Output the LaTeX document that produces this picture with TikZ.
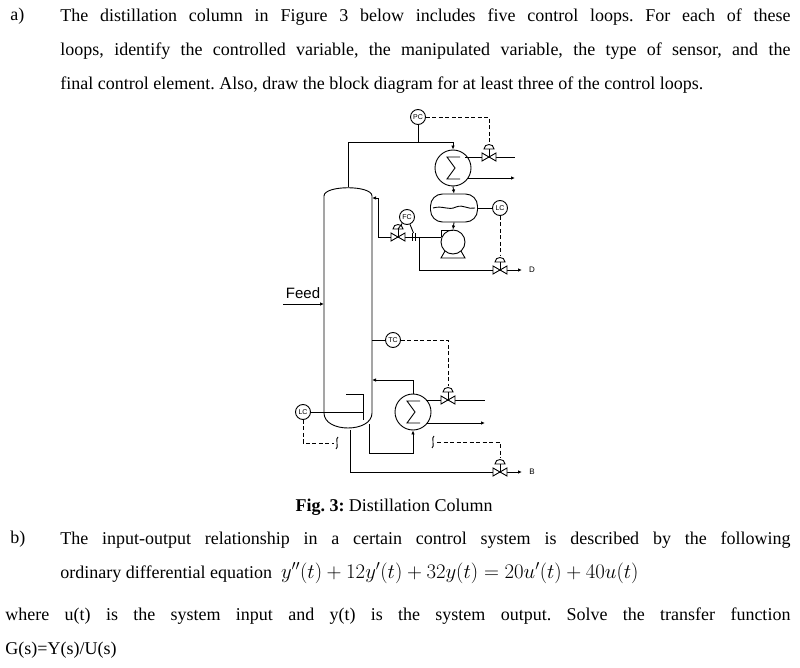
\documentclass[tikz,border=0pt]{standalone}
\usepackage{fontspec}
\setmainfont{Liberation Serif}
\newfontfamily\dsans{Liberation Sans}
\usetikzlibrary{arrows.meta}
\frenchspacing
\tikzset{
  txt/.style={anchor=north west, inner sep=0pt, align=justify, font=\fontsize{18}{34}\selectfont},
  inst/.style={draw, circle, minimum size=15pt, inner sep=0pt, font=\dsans\fontsize{7}{7}\selectfont, fill=white},
  sig/.style={dashed, dash pattern=on 4pt off 2.5pt},
  flow/.style={-{Latex[length=4pt,width=3.5pt]}},
  valve/.pic={
    \draw[fill=white] (-7,-4) -- (7,4) -- (7,-4) -- (-7,4) -- cycle;
    \draw (0,0) -- (0,-8);
    \draw[fill=white] (-5,-8) .. controls (-5,-14) and (5,-14) .. (5,-8) -- cycle;
  },
  squig/.pic={
    \draw (1,-6) .. controls (-2,-6) and (2,6) .. (-1,6);
  }
}
\begin{document}
\begin{tikzpicture}[x=1pt, y=-1pt, line width=0.9pt]
\useasboundingbox (0,0) rectangle (800,668);

% part a
\node[txt] (la) at (10,8) {a)};
\node[txt, text width=730pt] (qa) at (60,8) {The distillation column in Figure 3 below includes five control loops. For each of these\linebreak loops, identify the controlled variable, the manipulated variable, the type of sensor, and the\linebreak final control element. Also, draw the block diagram for at least three of the control loops.};

% column
\draw (324,413) -- (324,196) .. controls (324,185) and (372,185) .. (372,196) -- (372,413)
  .. controls (372,433) and (324,433) .. (324,413);

% overhead and condenser
\node[draw, circle, minimum size=36pt] (cond) at (453,168) {};
\draw (cond.center) ++(7,-11) -- ++(-13,0) -- ++(8,11) -- ++(-8,11) -- ++(13,0);
\coordinate (top) at (348,187);
\draw[flow] (top) -- (348,142) -- (453,142) -- (cond.north);
\node[inst] (pc) at (418,117) {PC};
\draw (pc) -- (418,142);
\draw (465,157) -- (515,157);
\pic at (489,157) {valve};
\draw[sig] (pc) -- (489,117) -- (489,143);
\draw[flow] (468,178) -- (515,178);

% accumulator
\node[draw, rounded corners=12pt, minimum width=47pt, minimum height=28pt] (drum) at (454,208) {};
\draw (433,208) .. controls (443,205) and (448,211) .. (456,207) .. controls (464,204) and (468,210) .. (475,208);
\draw[flow] (cond.south) -- (drum.north);
\node[inst] (lcd) at (500,208) {LC};
\draw (drum.east) -- (lcd);

% pump
\node[draw, circle, minimum size=24pt] (pump) at (453,242) {};
\draw (445,251) -- (441,258) -- (465,258) -- (461,251);
\draw (453,230) -- (441,230) -- (441,237);
\draw[flow] (drum.south) -- (pump.north);

% reflux
\draw[flow] (441,237) -- (378,237) -- (378,198) -- (372,198);
\draw (412,233) -- (412,241) (415,233) -- (415,241);
\pic at (398,237) {valve};
\node[inst] (fc) at (407,217) {FC};
\draw (fc) -- (413.5,233);
\draw (398,229) -- (fc);

% distillate
\draw[flow] (419,237) -- (419,270) -- (522,270);
\pic at (500,270) {valve};
\draw[sig] (lcd) -- (500,256);
\node[font=\dsans\fontsize{8}{8}\selectfont] (dl) at (532,270) {D};

% feed
\node[font=\dsans\fontsize{15}{15}\selectfont] (feed) at (303,293) {Feed};
\draw[flow] (283,304) -- (324,304);

% temperature control
\node[inst] (tc) at (393,340) {TC};
\draw (372,340) -- (tc);
\node[draw, circle, minimum size=36pt] (reb) at (413,412) {};
\draw (reb.center) ++(7,-11) -- ++(-13,0) -- ++(8,11) -- ++(-8,11) -- ++(13,0);
\draw (426,400) -- (485,400);
\pic at (448,400) {valve};
\draw[sig] (tc) -- (448,340) -- (448,386);
\draw[flow] (427,423) -- (485,423);
\draw[flow] (reb.north) -- (413,380) -- (372,380);
\draw[flow] (369,424) -- (369,453) -- (413,453) -- (reb.south);

% sump
\draw (346,394) -- (363,394) -- (363,420);
\draw (324,412) -- (363,412);
\node[inst] (lcb) at (303,412) {LC};
\draw (lcb) -- (324,412);
\draw[sig] (lcb) -- (303,443) -- (334,443);
\pic at (337,443) {squig};
\pic at (433,442) {squig};
\draw[sig] (437,442) -- (500,442) -- (500,458);
\draw[flow] (350,430) -- (350,472) -- (522,472);
\pic at (500,472) {valve};
\node[font=\dsans\fontsize{8}{8}\selectfont] (bl) at (532,472) {B};

% caption
\node[font=\fontsize{18}{20}\selectfont] (cap) at (394,507) {\textbf{Fig. 3:} Distillation Column};

% part b
\node[txt] (lb) at (10,531) {b)};
\node[txt, text width=730pt] (qb) at (60,531) {The input-output relationship in a certain control system is described by the following\linebreak ordinary differential equation \ {\fontsize{21}{21}\selectfont$y''(t)+12y'(t)+32y(t)=20u'(t)+40u(t)$}\par};
\node[txt, text width=785pt] (qc) at (5,607) {where u(t) is the system input and y(t) is the system output. Solve the transfer function\linebreak G(s)=Y(s)/U(s)};
\end{tikzpicture}
\end{document}
